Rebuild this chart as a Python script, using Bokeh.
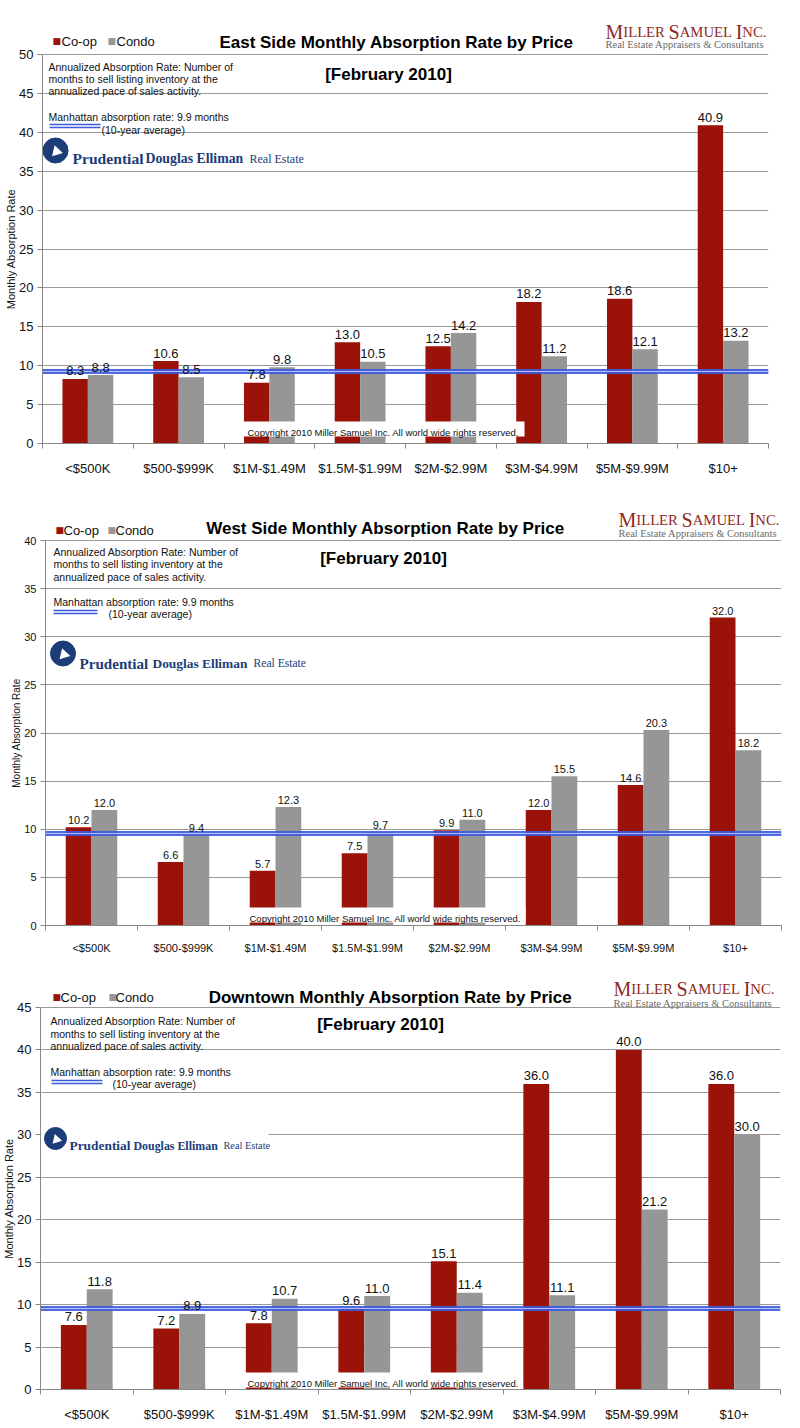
from bokeh.plotting import figure
from bokeh.models import Range1d, FixedTicker, Label, ColumnDataSource, Title
from bokeh.layouts import column
from bokeh.transform import dodge
from bokeh.core.properties import value
from bokeh.embed import file_html
from bokeh.resources import INLINE

# ---------------- data ----------------
categories = ["<$500K", "$500-$999K", "$1M-$1.49M", "$1.5M-$1.99M",
              "$2M-$2.99M", "$3M-$4.99M", "$5M-$9.99M", "$10+"]

east_coop = [8.3, 10.6, 7.8, 13.0, 12.5, 18.2, 18.6, 40.9]
east_condo = [8.8, 8.5, 9.8, 10.5, 14.2, 11.2, 12.1, 13.2]

west_coop = [10.2, 6.6, 5.7, 7.5, 9.9, 12.0, 14.6, 32.0]
west_condo = [12.0, 9.4, 12.3, 9.7, 11.0, 15.5, 20.3, 18.2]

down_coop = [7.6, 7.2, 7.8, 9.6, 15.1, 36.0, 40.0, 36.0]
down_condo = [11.8, 8.9, 10.7, 11.0, 11.4, 11.1, 21.2, 30.0]

chart_titles = ["East Side Monthly Absorption Rate by Price",
                "West Side Monthly Absorption Rate by Price",
                "Downtown Monthly Absorption Rate by Price"]
y_max = [50, 40, 45]
avg_line = [9.3, 9.55, 9.55]   # Manhattan 10-year average line as drawn

series_names = ["Co-op", "Condo"]
subtitle = "[February 2010]"
y_label = "Monthly Absorption Rate"
note_lines = ["Annualized Absorption Rate: Number of",
              "months to sell listing inventory at the",
              "annualized pace of sales activity."]
avg_text = "Manhattan absorption rate: 9.9 months"
avg_sub = "(10-year average)"
copyright_text = "Copyright 2010 Miller Samuel Inc.  All world wide rights reserved."

RED = "#9b1208"
GRAY = "#969696"
NAVY = "#1c3d78"
BLUE = "#3a5ae0"
MSRED = "#8e2a23"
SANS = "Liberation Sans"
SERIF = "Liberation Serif"

# ---------------- layout (page pixel geometry, decoration only) ----------------
PAGE_W = 800
layouts = [
    dict(fig_top=0, height=480, left=42, right=768, top=54, bottom=443,
         legend_base=41, sq=[52, 107], lab=[61, 116],
         title_cx=396, title_base=42, ms_x=605, ms_base=[31, 44],
         note_x=48, note_base=[66, 78, 90], feb_cx=388, feb_base=74,
         man_base=116, avg_x=101, avg_base=129, sample=(49, 100, 124, 127),
         pru_c=(55, 150, 25), pru_x=[72, 145, 249], pru_base=158, pru_s=1.0, pru_box=None,
         cr_box=(243, 524, 421, 436), cr_x=247, cr_base=432,
         tick_fs=13, xlab_fs=13, val_fs=13, axlab_fs=11, val_off=-8, xstand=12),
    dict(fig_top=480, height=480, left=45, right=781, top=540, bottom=925,
         legend_base=530, sq=[55, 107], lab=[63, 115],
         title_cx=385, title_base=528, ms_x=618, ms_base=[519, 533],
         note_x=53, note_base=[551, 563, 576], feb_cx=383, feb_base=558,
         man_base=601, avg_x=108, avg_base=613, sample=(53, 97, 610, 613),
         pru_c=(62.5, 653, 25), pru_x=[79, 152, 253], pru_base=663, pru_s=0.97, pru_box=None,
         cr_box=(246, 525, 907, 922), cr_x=249, cr_base=918,
         tick_fs=11, xlab_fs=11, val_fs=11, axlab_fs=10, val_off=-7, xstand=11),
    dict(fig_top=960, height=468, left=40, right=780, top=1007, bottom=1389,
         legend_base=997, sq=[52, 108], lab=[60, 115],
         title_cx=390, title_base=997, ms_x=613, ms_base=[988, 1003],
         note_x=50, note_base=[1020, 1033, 1045], feb_cx=380, feb_base=1024,
         man_base=1071, avg_x=112, avg_base=1083, sample=(51, 102, 1080, 1083),
         pru_c=(55, 1138, 22), pru_x=[69, 133, 223], pru_base=1145, pru_s=0.86,
         pru_box=(40, 268, 1125, 1153),
         cr_box=(243, 522, 1372, 1387), cr_x=247, cr_base=1383,
         tick_fs=13, xlab_fs=13, val_fs=13, axlab_fs=11, val_off=-8, xstand=12),
]

TNR = {"M": .889, "I": .333, "L": .611, "E": .611, "R": .667, "S": .556, "A": .722,
       "U": .722, "N": .722, "C": .667, ".": .25, " ": .25}
YLABEL_EM = 10.95   # width of the y-axis label in em (Arial metrics)


def make_chart(idx, coop, condo):
    L = layouts[idx]
    ymax = y_max[idx]
    fw = L["right"] - L["left"]
    fh = L["bottom"] - L["top"]
    # the frame is extended upward to the top of the figure so the heading row fits in it
    y_top = ymax * (L["bottom"] - L["fig_top"]) / fh

    def X(px):
        return -0.5 + (px - L["left"]) * len(categories) / fw

    def Y(py):
        return ymax * (L["bottom"] - py) / fh

    p = figure(width=PAGE_W, height=L["height"],
               x_range=Range1d(-0.5, len(categories) - 0.5), y_range=Range1d(0, y_top),
               output_backend="svg", toolbar_location=None, title=None, frame_align=False,
               min_border_left=L["left"], min_border_right=PAGE_W - L["right"],
               min_border_top=0,
               min_border_bottom=L["fig_top"] + L["height"] - L["bottom"])
    p.outline_line_color = None
    p.background_fill_color = "white"
    p.border_fill_color = "white"

    # axes
    p.yaxis.ticker = FixedTicker(ticks=list(range(0, ymax + 1, 5)))
    p.yaxis.bounds = (0, ymax)
    p.yaxis.major_label_text_font = SANS
    p.yaxis.major_label_text_font_size = f"{L['tick_fs']}px"
    p.yaxis.major_label_text_color = "#111111"
    p.yaxis.major_label_standoff = 4
    p.yaxis.axis_line_color = "#888888"
    p.yaxis.major_tick_line_color = "#888888"
    p.yaxis.major_tick_out = 5
    p.yaxis.major_tick_in = 0
    p.yaxis.minor_tick_line_color = None
    # rotated axis title, centred on the 0..ymax part of the frame
    ylab_offset = (L["bottom"] - L["top"]) / 2 - YLABEL_EM * L["axlab_fs"] / 2
    p.add_layout(Title(text=y_label, align="left", offset=ylab_offset,
                       text_font=SANS, text_font_size=f"{L['axlab_fs']}px",
                       text_font_style="normal", text_color="#111111", standoff=0), "left")

    p.xaxis.ticker = FixedTicker(ticks=list(range(len(categories))),
                                 minor_ticks=[i - 0.5 for i in range(len(categories) + 1)])
    p.xaxis.major_label_overrides = {i: c for i, c in enumerate(categories)}
    p.xaxis.major_label_text_font = SANS
    p.xaxis.major_label_text_font_size = f"{L['xlab_fs']}px"
    p.xaxis.major_label_text_color = "#111111"
    p.xaxis.major_label_standoff = L["xstand"]
    p.xaxis.major_tick_out = 0
    p.xaxis.major_tick_in = 0
    p.xaxis.minor_tick_out = 5
    p.xaxis.minor_tick_in = 0
    p.xaxis.minor_tick_line_color = "#888888"
    p.xaxis.axis_line_color = "#888888"

    p.xgrid.visible = False
    p.ygrid.grid_line_color = "#9a9a9a"
    p.ygrid.grid_line_width = 1

    src = ColumnDataSource(dict(
        x=list(range(len(categories))), coop=coop, condo=condo,
        coop_lbl=[f"{v:.1f}" for v in coop], condo_lbl=[f"{v:.1f}" for v in condo]))

    p.vbar(x=dodge("x", -0.14), top="coop", width=0.28, source=src,
           fill_color=RED, line_color=None)
    p.vbar(x=dodge("x", 0.14), top="condo", width=0.28, source=src,
           fill_color=GRAY, line_color=None)

    # Manhattan average line (double line)
    p.hspan(y=[avg_line[idx]], line_width=5, line_color=BLUE, line_alpha=0.9)
    p.hspan(y=[avg_line[idx]], line_width=1, line_color="#b4c0f4")

    # value labels
    for col, off in (("coop", -0.14), ("condo", 0.14)):
        p.text(x=dodge("x", off), y=col, text=col + "_lbl", source=src,
               text_align="center", text_baseline="alphabetic", y_offset=L["val_off"],
               text_font=value(SANS), text_font_size=f"{L['val_fs']}px", text_color="#111111")

    # white boxes (copyright / logo backgrounds)
    x0, x1, y0, y1 = L["cr_box"]
    p.quad(left=[X(x0)], right=[X(x1)], top=[Y(y0)], bottom=[Y(y1)],
           fill_color="white", line_color=None)
    if L["pru_box"]:
        x0, x1, y0, y1 = L["pru_box"]
        p.quad(left=[X(x0)], right=[X(x1)], top=[Y(y0)], bottom=[Y(y1)],
               fill_color="white", line_color=None)

    # legend sample line
    sx0, sx1, sy0, sy1 = L["sample"]
    for yy in (sy0, sy1):
        p.segment(x0=[X(sx0)], x1=[X(sx1)], y0=[Y(yy)], y1=[Y(yy)],
                  line_color=BLUE, line_width=1.6)

    # Prudential emblem
    cx, cy, d = L["pru_c"]
    p.scatter(x=[X(cx)], y=[Y(cy)], size=d, marker="circle", fill_color=NAVY, line_color=NAVY)
    p.scatter(x=[X(cx + 1)], y=[Y(cy + 1)], size=d * 0.45, marker="triangle",
              fill_color="white", line_color=None, angle=0.3)

    def lab(x, y, text, size, font=SANS, style="normal", color="#111111", align="left"):
        p.add_layout(Label(x=X(x), y=Y(y), text=text, text_font=font,
                           text_font_size=size, text_font_style=style, text_color=color,
                           text_align=align, text_baseline="alphabetic"))

    # copyright
    lab(L["cr_x"], L["cr_base"], copyright_text, "9.5px")

    # legend
    lab(L["sq"][0], L["legend_base"] - 1, "\u25A0", "9px", font="DejaVu Sans", color=RED)
    lab(L["sq"][1], L["legend_base"] - 1, "\u25A0", "9px", font="DejaVu Sans", color=GRAY)
    lab(L["lab"][0], L["legend_base"], series_names[0], "13px")
    lab(L["lab"][1], L["legend_base"], series_names[1], "13px")

    # titles
    lab(L["title_cx"], L["title_base"], chart_titles[idx], "17px", style="bold",
        color="#000000", align="center")
    lab(L["feb_cx"], L["feb_base"], subtitle, "17px", style="bold", color="#000000",
        align="center")

    # notes
    for t, b in zip(note_lines, L["note_base"]):
        lab(L["note_x"], b, t, "10.5px")
    lab(L["note_x"], L["man_base"], avg_text, "10.5px")
    lab(L["avg_x"], L["avg_base"], avg_sub, "10.5px")

    # Prudential Douglas Elliman text
    s = L["pru_s"]
    lab(L["pru_x"][0], L["pru_base"], "Prudential", f"{15.6 * s:.1f}px", font=SERIF,
        style="bold", color=NAVY)
    lab(L["pru_x"][1], L["pru_base"], "Douglas Elliman", f"{13.8 * s:.1f}px", font=SERIF,
        style="bold", color=NAVY)
    lab(L["pru_x"][2], L["pru_base"], "Real Estate", f"{12 * s:.1f}px", font=SERIF,
        color=NAVY)

    # Miller Samuel Inc. logo (small caps)
    B, S = 20.0, 14.7
    pieces = [("M", B), ("ILLER", S), (" ", S), ("S", B), ("AMUEL", S), (" ", S),
              ("I", B), ("NC.", S)]
    xx = L["ms_x"]
    for t, fs in pieces:
        if t.strip():
            lab(xx, L["ms_base"][0], t, f"{fs:.1f}px", font=SERIF, color=MSRED)
        xx += sum(TNR[c] for c in t) * fs
    lab(L["ms_x"], L["ms_base"][1], "Real Estate Appraisers & Consultants", "10.5px",
        font=SERIF, color="#6a6a6a")
    return p


p1 = make_chart(0, east_coop, east_condo)
p2 = make_chart(1, west_coop, west_condo)
p3 = make_chart(2, down_coop, down_condo)

page = column(p1, p2, p3, spacing=0)
open("out.html", "w").write(file_html(page, INLINE))
